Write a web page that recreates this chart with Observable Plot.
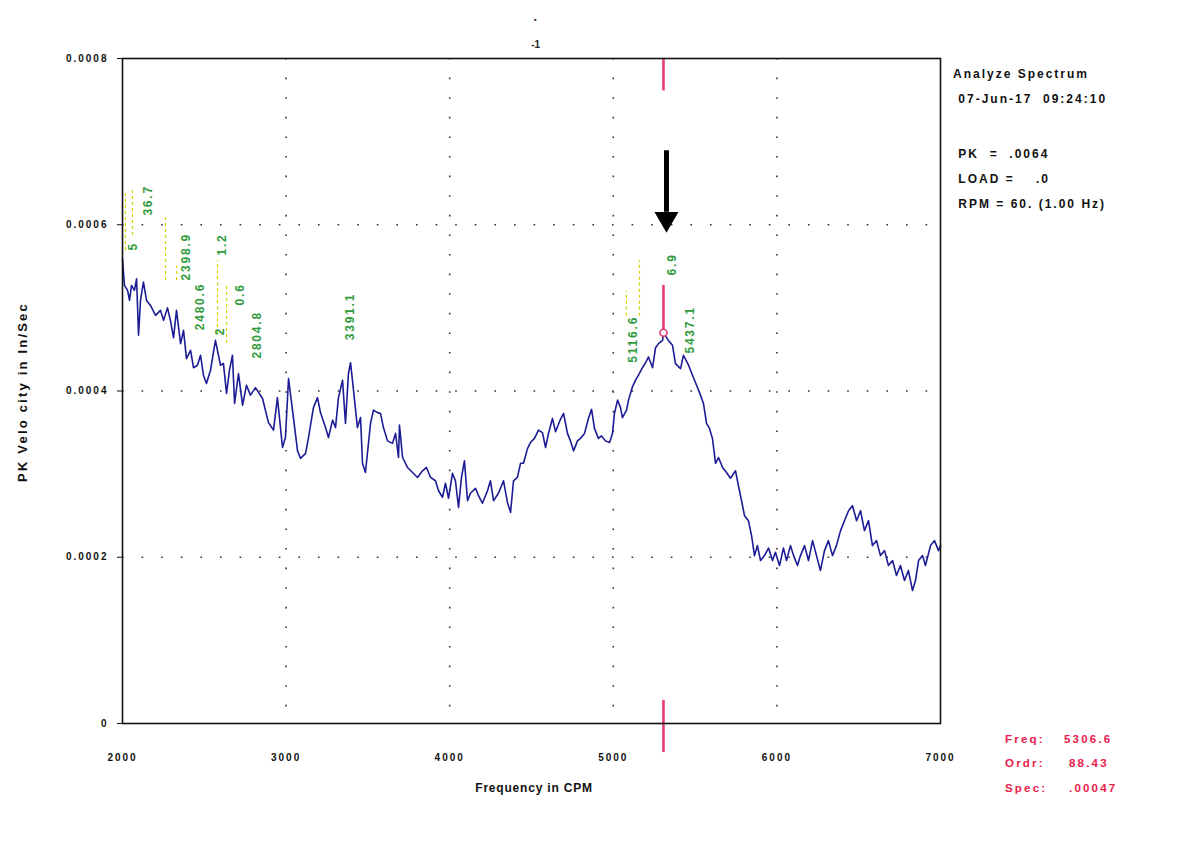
<!DOCTYPE html>
<html>
<head>
<meta charset="utf-8">
<script src="https://cdn.jsdelivr.net/npm/d3@7"></script>
<script src="https://cdn.jsdelivr.net/npm/@observablehq/plot@0.6"></script>
<style>
  html, body { margin: 0; padding: 0; background: #fff; }
  #wrap { position: relative; width: 1195px; height: 846px; font-family: "Liberation Sans", Arial, sans-serif; }
  #wrap svg [aria-label="x-axis tick label"] text,
  #wrap svg [aria-label="y-axis tick label"] text { letter-spacing: 2px; }
  #wrap svg g[fill="#2f9b3a"] text { letter-spacing: 1.8px; }
  .t { position: absolute; white-space: pre; font-weight: bold; color: #111; }
  .info { font-size: 12px; letter-spacing: 2px; }
  .red { color: #e8204a; font-size: 11.5px; letter-spacing: 2.2px; }
</style>
</head>
<body>
<div id="wrap"></div>
<script>
// ---- data (frequency in CPM, PK velocity in in/sec) ----
const spectrum = [
 [2000,5.59e-4],[2012,5.27e-4],[2031,5.21e-4],[2043,5.09e-4],[2055,5.27e-4],[2073,5.21e-4],[2086,5.35e-4],[2098,4.67e-4],[2110,5.09e-4],[2128,5.31e-4],
 [2147,5.09e-4],[2171,5.03e-4],[2202,4.91e-4],[2232,4.97e-4],[2251,4.85e-4],[2275,5.00e-4],[2293,4.85e-4],[2312,4.64e-4],[2330,4.97e-4],[2355,4.57e-4],
 [2373,4.73e-4],[2391,4.39e-4],[2416,4.49e-4],[2434,4.28e-4],[2458,4.31e-4],[2477,4.43e-4],[2495,4.19e-4],[2513,4.09e-4],[2538,4.25e-4],[2568,4.61e-4],
 [2599,4.31e-4],[2617,4.33e-4],[2636,3.97e-4],[2654,4.25e-4],[2672,4.43e-4],[2685,3.85e-4],[2709,4.21e-4],[2734,3.83e-4],[2758,4.07e-4],[2782,3.95e-4],
 [2813,4.04e-4],[2856,3.91e-4],[2892,3.62e-4],[2923,3.53e-4],[2947,3.92e-4],[2978,3.32e-4],[2996,3.44e-4],[3015,4.15e-4],[3039,3.77e-4],[3070,3.28e-4],
 [3088,3.19e-4],[3119,3.25e-4],[3137,3.44e-4],[3167,3.80e-4],[3192,3.92e-4],[3210,3.74e-4],[3241,3.56e-4],[3259,3.44e-4],[3284,3.65e-4],[3302,3.56e-4],
 [3320,3.92e-4],[3345,4.13e-4],[3363,3.61e-4],[3381,4.21e-4],[3394,4.34e-4],[3412,4.01e-4],[3436,3.56e-4],[3455,3.68e-4],[3467,3.13e-4],[3485,3.02e-4],
 [3516,3.61e-4],[3534,3.77e-4],[3559,3.74e-4],[3577,3.73e-4],[3595,3.56e-4],[3620,3.40e-4],[3650,3.37e-4],[3669,3.49e-4],[3687,3.20e-4],[3693,3.59e-4],
 [3712,3.20e-4],[3742,3.08e-4],[3773,3.02e-4],[3803,2.96e-4],[3834,3.04e-4],[3858,3.08e-4],[3883,2.96e-4],[3913,2.92e-4],[3932,2.80e-4],[3956,2.72e-4],
 [3974,2.89e-4],[3993,2.71e-4],[4017,3.01e-4],[4035,2.92e-4],[4054,2.60e-4],[4072,2.96e-4],[4090,3.16e-4],[4109,2.68e-4],[4127,2.77e-4],[4158,2.83e-4],
 [4176,2.74e-4],[4200,2.65e-4],[4231,2.80e-4],[4249,2.92e-4],[4268,2.68e-4],[4298,2.77e-4],[4329,2.92e-4],[4353,2.66e-4],[4372,2.54e-4],[4390,2.92e-4],
 [4414,2.96e-4],[4433,3.13e-4],[4451,3.13e-4],[4476,3.31e-4],[4494,3.38e-4],[4518,3.43e-4],[4543,3.53e-4],[4567,3.50e-4],[4586,3.32e-4],[4604,3.49e-4],
 [4628,3.67e-4],[4647,3.51e-4],[4677,3.66e-4],[4696,3.73e-4],[4720,3.49e-4],[4738,3.40e-4],[4757,3.28e-4],[4781,3.40e-4],[4799,3.43e-4],[4824,3.49e-4],
 [4848,3.67e-4],[4867,3.78e-4],[4885,3.55e-4],[4909,3.43e-4],[4928,3.46e-4],[4952,3.40e-4],[4977,3.38e-4],[4995,3.49e-4],[5007,3.73e-4],[5026,3.89e-4],
 [5044,3.80e-4],[5056,3.68e-4],[5081,3.77e-4],[5093,3.89e-4],[5117,4.05e-4],[5136,4.13e-4],[5154,4.19e-4],[5178,4.28e-4],[5197,4.34e-4],[5215,4.41e-4],
 [5240,4.28e-4],[5258,4.52e-4],[5276,4.57e-4],[5301,4.61e-4],[5307,4.70e-4],[5340,4.60e-4],[5362,4.55e-4],[5380,4.33e-4],[5411,4.27e-4],[5429,4.43e-4],
 [5460,4.31e-4],[5484,4.19e-4],[5509,4.07e-4],[5533,3.95e-4],[5551,3.85e-4],[5570,3.61e-4],[5588,3.55e-4],[5606,3.43e-4],[5625,3.13e-4],[5643,3.20e-4],
 [5668,3.08e-4],[5692,3.02e-4],[5716,2.95e-4],[5747,3.04e-4],[5765,2.86e-4],[5784,2.68e-4],[5802,2.50e-4],[5826,2.44e-4],[5845,2.26e-4],[5863,2.02e-4],
 [5881,2.14e-4],[5900,1.96e-4],[5924,2.02e-4],[5949,2.11e-4],[5973,1.96e-4],[5991,2.06e-4],[6016,1.90e-4],[6040,2.11e-4],[6059,1.96e-4],[6083,2.14e-4],
 [6102,2.02e-4],[6126,1.90e-4],[6144,2.02e-4],[6169,2.14e-4],[6193,1.96e-4],[6218,2.20e-4],[6242,2.02e-4],[6266,1.84e-4],[6291,2.08e-4],[6315,2.20e-4],
 [6340,2.02e-4],[6364,2.14e-4],[6389,2.32e-4],[6413,2.44e-4],[6438,2.56e-4],[6462,2.62e-4],[6487,2.44e-4],[6511,2.56e-4],[6535,2.32e-4],[6560,2.44e-4],
 [6584,2.14e-4],[6609,2.20e-4],[6633,2.02e-4],[6658,2.08e-4],[6682,1.90e-4],[6707,1.96e-4],[6731,1.78e-4],[6755,1.90e-4],[6780,1.72e-4],[6804,1.84e-4],
 [6829,1.60e-4],[6847,1.72e-4],[6866,1.96e-4],[6890,2.02e-4],[6908,1.90e-4],[6939,2.14e-4],[6963,2.20e-4],[6988,2.08e-4],[7000,2.14e-4]
];

const xTicks = [2000, 3000, 4000, 5000, 6000, 7000];
const yTicks = [0, 0.0002, 0.0004, 0.0006, 0.0008];
const xGrid = [3000, 4000, 5000, 6000];
const yGrid = [0.0002, 0.0004, 0.0006];

// peak labels: frequency, value at label foot, text
const peakLabels = [
  [2067, 5.69e-4, "5"],
  [2159, 6.11e-4, "36.7"],
  [2391, 5.33e-4, "2398.9"],
  [2477, 4.73e-4, "2480.6"],
  [2599, 4.67e-4, "2"],
  [2611, 5.63e-4, "1.2"],
  [2721, 5.03e-4, "0.6"],
  [2825, 4.39e-4, "2804.8"],
  [3394, 4.61e-4, "3391.1"],
  [5123, 4.34e-4, "5116.6"],
  [5362, 5.39e-4, "6.9"],
  [5472, 4.45e-4, "5437.1"]
];
// dashed yellow leader lines: frequency, low value, high value
const leaders = [
  [2018, 5.69e-4, 6.41e-4],
  [2061, 5.87e-4, 6.41e-4],
  [2263, 5.33e-4, 6.11e-4],
  [2330, 5.33e-4, 5.50e-4],
  [2581, 4.69e-4, 5.57e-4],
  [2636, 4.57e-4, 5.29e-4],
  [5080, 4.90e-4, 5.20e-4],
  [5160, 4.90e-4, 5.57e-4]
];

const cursorFreq = 5306.6;
const cursorSpec = 0.00047;
const cursorSegments = [[0.000761, 0.0008], [0.000470, 0.000527], [-0.000035, 0.0000277]];
const arrowFreq = 5325;
const arrowShaft = [0.000615, 0.000689];
const arrowHead = 0.000607;
const topMarkFreq = 4525;

const infoLines = ["Analyze Spectrum", " 07-Jun-17  09:24:10", "", " PK  =  .0064", " LOAD =    .0", " RPM = 60. (1.00 Hz)"];
const cursorLabels = ["Freq:", "Ordr:", "Spec:"];
const cursorValues = ["5306.6", "88.43", ".00047"];

// ---- chart ----
const line = spectrum.map(([f, v]) => ({f, v}));
const labels = peakLabels.map(([f, v, t]) => ({f, v, t}));
const lead = leaders.map(([f, a, b]) => ({f, a, b}));
const segs = cursorSegments.map(([a, b]) => ({a, b}));

const chart = Plot.plot({
  width: 1195,
  height: 846,
  marginLeft: 122,
  marginRight: 255,
  marginTop: 58,
  marginBottom: 123,
  style: {fontFamily: "Liberation Sans, Arial, sans-serif", fontSize: "10px", fontWeight: "bold", background: "#fff", color: "#111"},
  x: {domain: [2000, 7000]},
  y: {domain: [0, 0.0008]},
  marks: [
    Plot.gridX(xGrid, {stroke: "#333", strokeOpacity: 1, strokeWidth: 1.6, strokeDasharray: "1.6,18"}),
    Plot.gridY(yGrid, {stroke: "#333", strokeOpacity: 1, strokeWidth: 1.6, strokeDasharray: "1.6,18"}),
    Plot.axisX(xTicks, {tickSize: 0, tickPadding: 30, tickFormat: d => String(d), label: null, fill: "#111"}),
    Plot.axisY(yTicks, {tickSize: 5, tickPadding: 9, tickFormat: d => d === 0 ? "0" : d.toFixed(4), label: null, fill: "#111"}),
    Plot.ruleX(lead, {x: "f", y1: "a", y2: "b", stroke: "#d6d200", strokeWidth: 1.2, strokeDasharray: "3,3"}),
    Plot.text(labels, {x: "f", y: "v", text: "t", rotate: -90, textAnchor: "start", fill: "#2f9b3a", fontSize: 12, fontWeight: "bold"}),
    Plot.line(line, {x: "f", y: "v", stroke: "#1c1c96", strokeWidth: 1.6}),
    Plot.ruleX(segs, {x: cursorFreq, y1: "a", y2: "b", stroke: "#ea3a6e", strokeWidth: 2.6}),
    Plot.dot([{f: cursorFreq, v: cursorSpec}], {x: "f", y: "v", r: 3.5, stroke: "#ea3a6e", strokeWidth: 1.6, fill: "#fff"}),
    Plot.ruleX([{f: arrowFreq}], {x: "f", y1: arrowShaft[0], y2: arrowShaft[1], stroke: "#000", strokeWidth: 5}),
    Plot.dot([{f: arrowFreq, v: arrowHead}], {x: "f", y: "v", symbol: "triangle", r: 8.9, rotate: 180, fill: "#000", stroke: "none"}),
    Plot.text([{f: topMarkFreq, v: 0.000816, t: "-1"}], {x: "f", y: "v", text: "t", fontSize: 10, fontWeight: "bold", fill: "#222"}),
    Plot.text([{f: topMarkFreq, v: 0.000846, t: "·"}], {x: "f", y: "v", text: "t", fontSize: 14, fontWeight: "bold", fill: "#444"}),
    Plot.frame({stroke: "#111", strokeWidth: 1.6})
  ]
});

const wrap = document.getElementById("wrap");
wrap.appendChild(chart);

function addText(txt, left, top, cls, extra) {
  const d = document.createElement("div");
  d.className = "t " + cls;
  d.textContent = txt;
  d.style.left = left + "px";
  d.style.top = top + "px";
  if (extra) Object.assign(d.style, extra);
  wrap.appendChild(d);
  return d;
}

// axis titles
addText("Frequency in CPM", 534, 781, "", {fontSize: "12px", letterSpacing: "0.8px", transform: "translateX(-50%)"});
addText("PK Velo city in In/Sec", 22, 392, "", {fontSize: "13px", letterSpacing: "2.2px", transform: "translate(-50%,-50%) rotate(-90deg)"});

// info block
const infoTops = [67, 92, 0, 147, 172, 197];
infoLines.forEach((s, i) => { if (s) addText(s, 953, infoTops[i], "info"); });

// cursor readout
const redTops = [733, 757, 782];
cursorLabels.forEach((s, i) => {
  addText(s, 1005, redTops[i], "red");
  addText(cursorValues[i], i === 0 ? 1064 : 1069, redTops[i], "red");
});
</script>
</body>
</html>
